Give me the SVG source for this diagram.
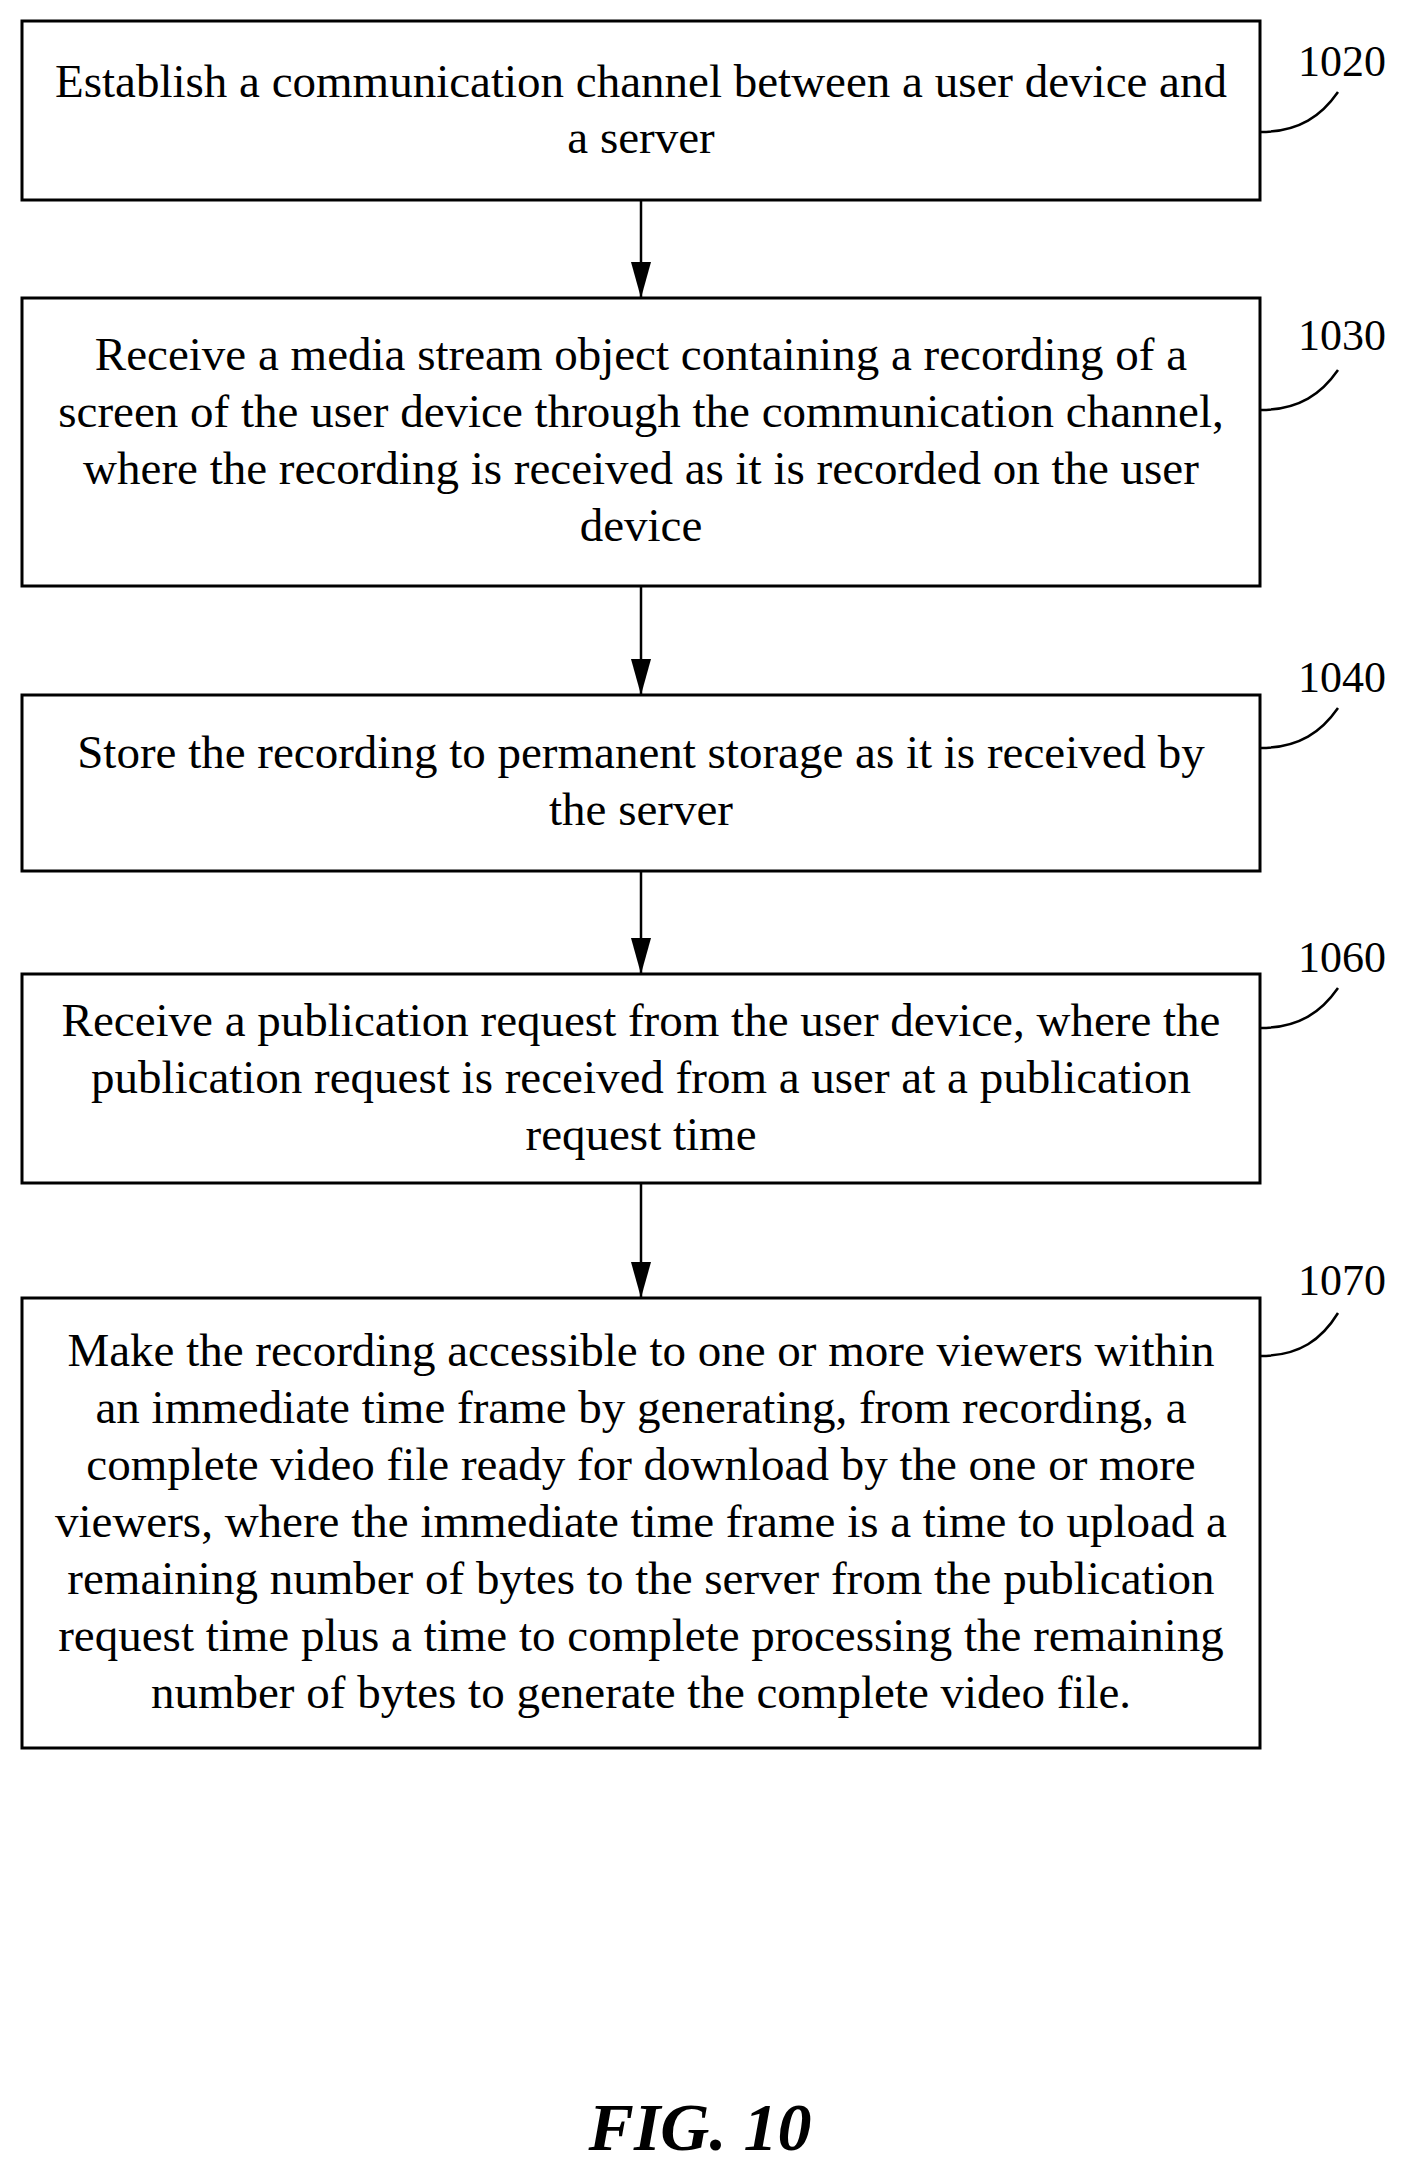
<svg xmlns="http://www.w3.org/2000/svg" width="1409" height="2178" viewBox="0 0 1409 2178">
<style>
.box{fill:#fff;stroke:#000;stroke-width:3}
.t{font-family:"Liberation Serif",serif;font-size:47px;text-anchor:middle;fill:#000}
.lbl{font-family:"Liberation Serif",serif;font-size:44px;text-anchor:middle;fill:#000}
.ln{fill:none;stroke:#000;stroke-width:2.5}
</style>
<defs><marker id="ah" markerWidth="36" markerHeight="20" refX="36" refY="10" orient="auto" markerUnits="userSpaceOnUse" viewBox="0 0 36 20"><path d="M0,0 L36,10 L0,20 Z" fill="#000"/></marker></defs>
<rect width="1409" height="2178" fill="#fff"/>
<g id="n1020"><rect class="box" x="22" y="21" width="1238" height="179"/>
<text class="t" x="641" y="97">Establish a communication channel between a user device and</text>
<text class="t" x="641" y="153">a server</text>
<text class="lbl" x="1342" y="76">1020</text><path class="ln" d="M1260,132 C1300,132 1322,115 1338,92"/></g>
<g id="n1030"><rect class="box" x="22" y="298" width="1238" height="288"/>
<text class="t" x="641" y="370">Receive a media stream object containing a recording of a</text>
<text class="t" x="641" y="427">screen of the user device through the communication channel,</text>
<text class="t" x="641" y="484">where the recording is received as it is recorded on the user</text>
<text class="t" x="641" y="541">device</text>
<text class="lbl" x="1342" y="350">1030</text><path class="ln" d="M1260,410 C1300,410 1322,393 1338,370"/></g>
<g id="n1040"><rect class="box" x="22" y="695" width="1238" height="176"/>
<text class="t" x="641" y="768">Store the recording to permanent storage as it is received by</text>
<text class="t" x="641" y="825">the server</text>
<text class="lbl" x="1342" y="692">1040</text><path class="ln" d="M1260,748 C1300,748 1322,731 1338,708"/></g>
<g id="n1060"><rect class="box" x="22" y="974" width="1238" height="209"/>
<text class="t" x="641" y="1036">Receive a publication request from the user device, where the</text>
<text class="t" x="641" y="1093">publication request is received from a user at a publication</text>
<text class="t" x="641" y="1150">request time</text>
<text class="lbl" x="1342" y="972">1060</text><path class="ln" d="M1260,1028 C1300,1028 1322,1011 1338,988"/></g>
<g id="n1070"><rect class="box" x="22" y="1298" width="1238" height="450"/>
<text class="t" x="641" y="1366">Make the recording accessible to one or more viewers within</text>
<text class="t" x="641" y="1423">an immediate time frame by generating, from recording, a</text>
<text class="t" x="641" y="1480">complete video file ready for download by the one or more</text>
<text class="t" x="641" y="1537">viewers, where the immediate time frame is a time to upload a</text>
<text class="t" x="641" y="1594">remaining number of bytes to the server from the publication</text>
<text class="t" x="641" y="1651">request time plus a time to complete processing the remaining</text>
<text class="t" x="641" y="1708">number of bytes to generate the complete video file.</text>
<text class="lbl" x="1342" y="1295">1070</text><path class="ln" d="M1260,1356 C1300,1356 1322,1339 1338,1313"/></g>
<g id="connectors" stroke="#000" stroke-width="2.5">
<line x1="641" y1="200" x2="641" y2="298" marker-end="url(#ah)"/>
<line x1="641" y1="586" x2="641" y2="695" marker-end="url(#ah)"/>
<line x1="641" y1="871" x2="641" y2="974" marker-end="url(#ah)"/>
<line x1="641" y1="1183" x2="641" y2="1298" marker-end="url(#ah)"/>
</g>
<text x="700" y="2150" font-family="Liberation Serif,serif" font-size="68" font-weight="bold" font-style="italic" text-anchor="middle">FIG. 10</text>
</svg>
